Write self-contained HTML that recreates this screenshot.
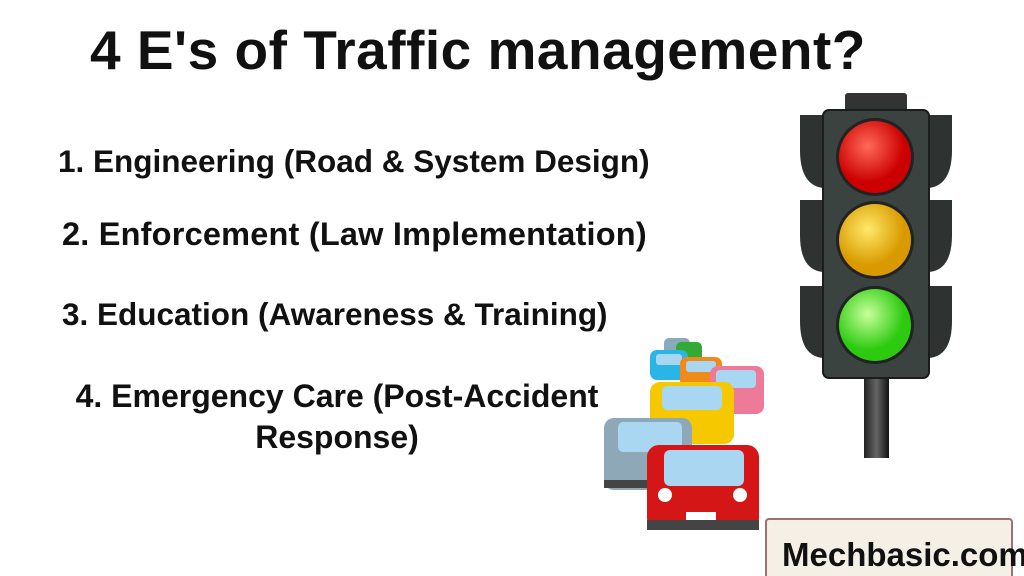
<!DOCTYPE html>
<html><head><style>
body{margin:0;width:1024px;height:576px;background:#fff;position:relative;overflow:hidden;font-family:"Liberation Sans",sans-serif;color:#111}
.t{position:absolute;font-weight:bold;white-space:nowrap}
</style></head><body>
<div class="t" style="left:90px;top:18px;font-size:55px;letter-spacing:0.5px">4 E's of Traffic management?</div>
<div class="t" style="left:58px;top:143px;font-size:31.5px">1. Engineering (Road &amp; System Design)</div>
<div class="t" style="left:62px;top:216px;font-size:32.5px;letter-spacing:0.2px">2. Enforcement (Law Implementation)</div>
<div class="t" style="left:62px;top:296px;font-size:31.5px">3. Education (Awareness &amp; Training)</div>
<div class="t" style="left:72px;top:376px;font-size:32px;text-align:center;width:530px;line-height:41px">4. Emergency Care (Post-Accident<br>Response)</div>

<svg width="1024" height="576" style="position:absolute;left:0;top:0">
<defs>
<radialGradient id="r" cx="40%" cy="35%"><stop offset="0" stop-color="#ff6a5a"/><stop offset="1" stop-color="#c00"/></radialGradient>
<radialGradient id="y" cx="40%" cy="35%"><stop offset="0" stop-color="#ffe96a"/><stop offset="1" stop-color="#d99a00"/></radialGradient>
<radialGradient id="g" cx="40%" cy="35%"><stop offset="0" stop-color="#c8ff9a"/><stop offset="1" stop-color="#2ccb10"/></radialGradient>
<linearGradient id="p" x1="0" x2="1"><stop offset="0" stop-color="#222"/><stop offset=".5" stop-color="#666"/><stop offset="1" stop-color="#111"/></linearGradient>
</defs>
<rect x="864" y="375" width="25" height="83" fill="url(#p)"/>
<rect x="845" y="93" width="62" height="20" rx="3" fill="#333"/>
<g fill="#2e3230">
<path d="M823 115 H800 V150 Q800 185 823 188Z"/><path d="M823 200 H800 V235 Q800 270 823 272Z"/><path d="M823 286 H800 V321 Q800 356 823 358Z"/>
<path d="M929 115 H952 V150 Q952 185 929 188Z"/><path d="M929 200 H952 V235 Q952 270 929 272Z"/><path d="M929 286 H952 V321 Q952 356 929 358Z"/>
</g>
<rect x="823" y="110" width="106" height="268" rx="6" fill="#3a4340" stroke="#1a1d1c" stroke-width="2"/>
<circle cx="875" cy="157" r="39" fill="#222"/><circle cx="875" cy="157" r="36" fill="url(#r)"/>
<circle cx="875" cy="240" r="39" fill="#222"/><circle cx="875" cy="240" r="36" fill="url(#y)"/>
<circle cx="875" cy="325" r="39" fill="#222"/><circle cx="875" cy="325" r="36" fill="url(#g)"/>
<g>
<rect x="664" y="338" width="26" height="18" rx="5" fill="#8ab"/>
<rect x="676" y="342" width="26" height="20" rx="5" fill="#3a3"/>
<rect x="650" y="350" width="38" height="30" rx="7" fill="#29b6e6"/><rect x="656" y="354" width="26" height="11" rx="3" fill="#a9d6f0"/>
<rect x="680" y="357" width="42" height="30" rx="7" fill="#f08a1a"/><rect x="686" y="361" width="30" height="11" rx="3" fill="#a9d6f0"/>
<rect x="710" y="366" width="54" height="48" rx="8" fill="#ee7a99"/><rect x="716" y="370" width="40" height="18" rx="4" fill="#a9d6f0"/>
<rect x="650" y="382" width="84" height="62" rx="10" fill="#f5c800"/><rect x="662" y="386" width="60" height="24" rx="5" fill="#a9d6f0"/>
<rect x="604" y="418" width="88" height="72" rx="10" fill="#8fa8b8"/><rect x="618" y="422" width="64" height="30" rx="5" fill="#a9d6f0"/><rect x="604" y="480" width="88" height="8" fill="#444"/>
<rect x="647" y="445" width="112" height="85" rx="12" fill="#d41616"/><rect x="664" y="450" width="80" height="36" rx="6" fill="#a9d6f0"/>
<circle cx="665" cy="495" r="7" fill="#fff"/><circle cx="740" cy="495" r="7" fill="#fff"/><rect x="686" y="512" width="30" height="10" fill="#fff"/>
<rect x="647" y="520" width="112" height="10" fill="#444"/>
</g>
<rect x="766" y="519" width="246" height="60" rx="3" fill="#f5f0e6" stroke="#a07070" stroke-width="2"/>
<text x="782" y="566" font-family="Liberation Sans" font-weight="bold" font-size="33" fill="#111">Mechbasic.com</text>
</svg>
</body></html>
